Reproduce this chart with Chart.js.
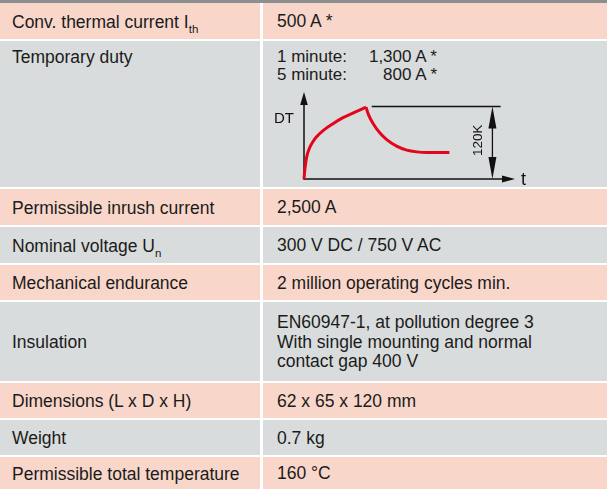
<!DOCTYPE html>
<html><head><meta charset="utf-8">
<script src="https://cdn.jsdelivr.net/npm/chart.js@4"></script>
<style>
html,body{margin:0;padding:0;background:#fff;}
body{width:607px;height:489px;position:relative;overflow:hidden;font-family:"Liberation Sans",Arial,sans-serif;color:#1b1b1b;font-size:17.5px;}
.top{position:absolute;left:0;top:0;width:607px;height:3px;background:#8d8e8f;}
.c{position:absolute;display:flex;align-items:center;box-sizing:border-box;white-space:nowrap;padding-top:2px;}
.p{background:#f8d6c9}.g{background:#d9dcdc}
.l{left:0;width:260px;padding-left:12px}
.r{left:263px;width:344px;padding-left:14px}
.t{align-items:flex-start;padding-top:0}
.sb{font-size:11.5px;position:relative;top:5px}
.ln{height:19.6px;line-height:19.6px}
.duty{display:grid;grid-template-columns:82px 78px;grid-auto-rows:18.5px;line-height:18.5px;padding-top:6.5px;font-size:17px}
.duty .v{text-align:right}
#chartBox{position:absolute;left:270px;top:80px;width:270px;height:110px;}
</style></head>
<body>
<div class="top"></div>
<div id="table"></div>
<div id="chartBox"><canvas id="c"></canvas></div>
<script>
// ---- table contents ----
const rowLabels = [
  'Conv. thermal current I<span class="sb">th</span>',
  'Temporary duty',
  'Permissible inrush current',
  'Nominal voltage U<span class="sb">n</span>',
  'Mechanical endurance',
  'Insulation',
  'Dimensions (L x D x H)',
  'Weight',
  'Permissible total temperature'
];
const rowValues = [
  ['500 A *'],
  [],
  ['2,500 A'],
  ['300 V DC / 750 V AC'],
  ['2 million operating cycles min.'],
  ['EN60947-1, at pollution degree 3', 'With single mounting and normal', 'contact gap 400 V'],
  ['62 x 65 x 120 mm'],
  ['0.7 kg'],
  ['160 °C']
];
const dutyLabels = ['1 minute:', '5 minute:'];
const dutyValues = ['1,300 A *', '800 A *'];

// ---- chart data (DT in K versus time, arbitrary units) ----
const riseTime  = [0, 0.47, 1.28, 2.84, 5.21, 7.11, 9.48, 13.75, 18.49, 24.17, 29.39];
const riseDT    = [0, 18.1, 36.7, 53.1, 66.9, 74.0, 81.4, 91.6, 101.5, 110.7, 119];
const decayTime = [29.39, 30.5, 32.8, 36.0, 39.2, 43.9, 48.7, 53.4, 58.2, 62.9, 68.9];
const decayDT   = [119, 107, 91.6, 76.1, 65.3, 54.3, 47.7, 44.9, 43.9, 43.9, 44];
const refLevel = 120;          // K
const refLineTime = [32.1, 93.2];
const dimArrowTime = 89.3;
const dimLabel = '120K';

// ---- build table ----
const rowBounds = [[3,39],[41,187],[189,225],[227,263],[265,300],[302,381],[383,418],[420,455],[457,489]];
const tbl = document.getElementById('table');
rowLabels.forEach((lab, i) => {
  const [t0, t1] = rowBounds[i];
  const cls = i % 2 === 0 ? 'p' : 'g';
  const l = document.createElement('div');
  l.className = 'c l ' + cls + (i === 1 ? ' t' : '');
  l.style.top = t0 + 'px'; l.style.height = (t1 - t0) + 'px';
  l.innerHTML = i === 1 ? '<div style="padding-top:6.5px;line-height:18.5px">' + lab + '</div>' : '<div>' + lab + '</div>';
  const r = document.createElement('div');
  r.className = 'c r ' + cls + (i === 1 ? ' t' : '');
  r.style.top = t0 + 'px'; r.style.height = (t1 - t0) + 'px';
  if (i === 1) {
    r.innerHTML = '<div class="duty">' + dutyLabels.map((d, k) =>
      '<div>' + d + '</div><div class="v">' + dutyValues[k] + '</div>').join('') + '</div>';
  } else {
    r.innerHTML = '<div>' + rowValues[i].map(s => '<div class="ln">' + s + '</div>').join('') + '</div>';
  }
  tbl.appendChild(l); tbl.appendChild(r);
});

// ---- chart ----
const toPts = (xs, ys) => xs.map((x, i) => ({x, y: ys[i]}));
const red = '#e3061b';
const FONT = '"Liberation Sans", Arial, sans-serif';

function arrowHead(ctx, x, y, dir, len, half) {
  ctx.beginPath();
  if (dir === 'up')    { ctx.moveTo(x, y); ctx.lineTo(x - half, y + len); ctx.lineTo(x + half, y + len); }
  if (dir === 'down')  { ctx.moveTo(x, y); ctx.lineTo(x - half, y - len); ctx.lineTo(x + half, y - len); }
  if (dir === 'right') { ctx.moveTo(x, y); ctx.lineTo(x - len, y - half); ctx.lineTo(x - len, y + half); }
  ctx.closePath(); ctx.fill();
}

const axesPlugin = {
  id: 'axesArrows',
  beforeDatasetsDraw(chart) {
    const {ctx} = chart;
    const xs = chart.scales.x, ys = chart.scales.y;
    const x0 = xs.getPixelForValue(0), y0 = ys.getPixelForValue(0);
    const xEnd = xs.getPixelForValue(xs.max), yEnd = ys.getPixelForValue(ys.max);
    ctx.save();
    ctx.strokeStyle = '#111'; ctx.fillStyle = '#111'; ctx.lineWidth = 1.5;
    // y axis
    ctx.beginPath(); ctx.moveTo(x0, y0 + 0.5); ctx.lineTo(x0, yEnd + 8); ctx.stroke();
    arrowHead(ctx, x0, yEnd, 'up', 13, 3.8);
    // x axis
    ctx.beginPath(); ctx.moveTo(x0 - 0.5, y0); ctx.lineTo(xEnd - 8, y0); ctx.stroke();
    arrowHead(ctx, xEnd, y0, 'right', 13, 3.5);
    // dimension arrow
    const xa = xs.getPixelForValue(dimArrowTime);
    const yTop = ys.getPixelForValue(refLevel);
    ctx.lineWidth = 1.3;
    ctx.beginPath(); ctx.moveTo(xa, yTop + 10); ctx.lineTo(xa, y0 - 10); ctx.stroke();
    arrowHead(ctx, xa, yTop, 'up', 22, 4);
    arrowHead(ctx, xa, y0, 'down', 22, 4);
    // labels
    ctx.font = '15px ' + FONT;
    ctx.textAlign = 'right'; ctx.textBaseline = 'middle';
    ctx.fillText('DT', x0 - 10, ys.getPixelForValue(100));
    ctx.font = '18px ' + FONT;
    ctx.textAlign = 'left'; ctx.textBaseline = 'alphabetic';
    ctx.fillText('t', xEnd + 6, y0 + 6);
    ctx.save();
    ctx.translate(xs.getPixelForValue(82.5), ys.getPixelForValue(64));
    ctx.rotate(-Math.PI / 2);
    ctx.font = '13.5px ' + FONT;
    ctx.textAlign = 'center'; ctx.textBaseline = 'middle';
    ctx.fillText(dimLabel, 0, 0);
    ctx.restore();
    ctx.restore();
  }
};

new Chart(document.getElementById('c'), {
  type: 'line',
  data: {
    datasets: [
      {data: toPts(riseTime, riseDT), borderColor: red, borderWidth: 3, pointRadius: 0, cubicInterpolationMode: 'monotone', clip: false, borderJoinStyle: 'round'},
      {data: toPts(decayTime, decayDT), borderColor: red, borderWidth: 3, pointRadius: 0, cubicInterpolationMode: 'monotone', clip: false, borderJoinStyle: 'round'},
      {data: toPts(refLineTime, [refLevel, refLevel]), borderColor: '#111', borderWidth: 1.3, pointRadius: 0, clip: false}
    ]
  },
  options: {
    responsive: true, maintainAspectRatio: false, animation: false,
    layout: {padding: {left: 34, right: 25, top: 12, bottom: 11}},
    scales: {
      x: {type: 'linear', display: false, min: 0, max: 100},
      y: {type: 'linear', display: false, min: 0, max: 144}
    },
    plugins: {legend: {display: false}, tooltip: {enabled: false}},
    events: []
  },
  plugins: [axesPlugin]
});
</script>
</body></html>
